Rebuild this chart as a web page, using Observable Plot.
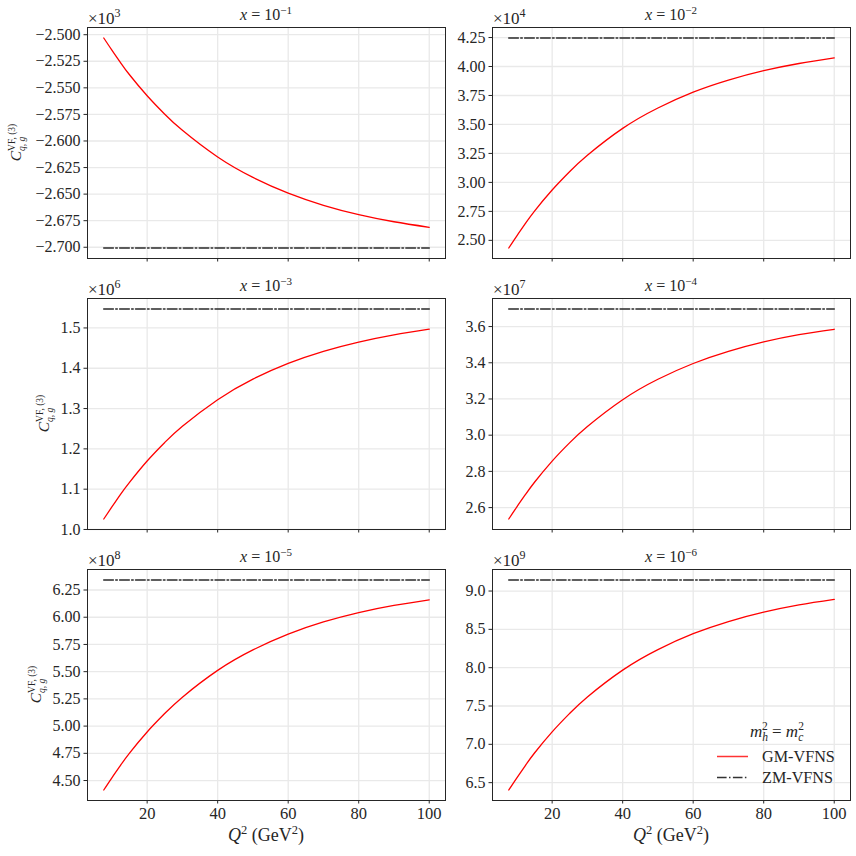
<!DOCTYPE html>
<html><head><meta charset="utf-8">
<script src="https://cdn.jsdelivr.net/npm/d3@7"></script>
<script src="https://cdn.jsdelivr.net/npm/@observablehq/plot@0.6"></script>
<style>
body{margin:0;background:#fff;}
#wrap{position:relative;width:856px;height:856px;overflow:hidden;background:#fff;}
#wrap svg.pl{position:absolute;}
#over{position:absolute;left:0;top:0;pointer-events:none;}
</style></head><body><div id="wrap"></div>
<script>
// ---------- data ----------
const Q2 = [7.7, 10, 12.5, 15, 20, 25, 30, 40, 50, 60, 70, 80, 90, 100];
const gmX1 = [-2.5031,-2.5145,-2.5264,-2.5377,-2.5574,-2.5748,-2.5900,-2.6151,-2.6343,-2.6491,-2.6605,-2.6693,-2.6760,-2.6812];
const gmX2 = [2.434,2.539,2.649,2.752,2.934,3.094,3.234,3.466,3.642,3.779,3.883,3.964,4.026,4.074];
const gmX3 = [1.026,1.056,1.088,1.117,1.170,1.216,1.256,1.322,1.373,1.412,1.442,1.465,1.483,1.497];
const gmX4 = [2.537,2.604,2.674,2.740,2.857,2.959,3.048,3.196,3.309,3.396,3.463,3.515,3.555,3.585];
const gmX5 = [4.413,4.525,4.642,4.752,4.946,5.116,5.266,5.512,5.700,5.845,5.957,6.043,6.109,6.160];
const gmX6 = [6.404,6.563,6.730,6.887,7.163,7.405,7.618,7.968,8.236,8.443,8.602,8.724,8.819,8.891];
const zmValues = [-2.7007, 4.246, 1.547, 3.697, 6.342, 9.144];
const xExponents = ["−1","−2","−3","−4","−5","−6"];
const scaleExponents = ["3","4","6","7","8","9"];
const xTicks = [20, 40, 60, 80, 100];
const yTicks1 = [-2.700,-2.675,-2.650,-2.625,-2.600,-2.575,-2.550,-2.525,-2.500];
const yTicks2 = [2.50,2.75,3.00,3.25,3.50,3.75,4.00,4.25];
const yTicks3 = [1.0,1.1,1.2,1.3,1.4,1.5];
const yTicks4 = [2.6,2.8,3.0,3.2,3.4,3.6];
const yTicks5 = [4.50,4.75,5.00,5.25,5.50,5.75,6.00,6.25];
const yTicks6 = [6.5,7.0,7.5,8.0,8.5,9.0];
const yFormats = [".3f",".2f",".1f",".1f",".2f",".1f"];
const seriesNames = ["GM-VFNS","ZM-VFNS"];

const gmAll = [gmX1,gmX2,gmX3,gmX4,gmX5,gmX6];
const yTicksAll = [yTicks1,yTicks2,yTicks3,yTicks4,yTicks5,yTicks6];

// ---------- layout ----------
const FONT = '"Liberation Serif", "DejaVu Serif", serif';
const TXT = "#262626";
const colLeft = [87, 492], rowTop = [27, 298, 569];
const FW = 358, FH = 231;
const ML = 80, MR = 10, MT = 8, MB = 30;
const wrap = document.getElementById("wrap");
const xExt = d3.extent(Q2), xPad = (xExt[1]-xExt[0])*0.05;
const xDomain = [xExt[0]-xPad, xExt[1]+xPad];

for (let i = 0; i < 6; i++) {
  const col = i % 2, row = Math.floor(i / 2);
  const gm = gmAll[i];
  const gmData = Q2.map((q, j) => ({q, v: gm[j], s: seriesNames[0]}));
  const zmData = [{q: xExt[0], v: zmValues[i], s: seriesNames[1]}, {q: xExt[1], v: zmValues[i], s: seriesNames[1]}];
  const yExt = d3.extent([...gm, zmValues[i]]), yPad = (yExt[1]-yExt[0])*0.05;
  const fmt = d3.format(yFormats[i]);
  const svg = Plot.plot({
    width: ML + FW + MR, height: MT + FH + MB,
    marginLeft: ML, marginRight: MR, marginTop: MT, marginBottom: MB,
    style: {fontFamily: FONT, color: TXT, background: "transparent", overflow: "visible"},
    x: {domain: xDomain},
    y: {domain: [yExt[0]-yPad, yExt[1]+yPad]},
    marks: [
      Plot.gridX(xTicks, {stroke: "#e9e9e9", strokeOpacity: 1, strokeWidth: 1.3}),
      Plot.gridY(yTicksAll[i], {stroke: "#e9e9e9", strokeOpacity: 1, strokeWidth: 1.3}),
      Plot.line(zmData, {x: "q", y: "v", stroke: "#2a2a2a", strokeWidth: 1.6, strokeDasharray: "9.6,2.4,1.5,2.4"}),
      Plot.line(gmData, {x: "q", y: "v", stroke: "red", strokeWidth: 1.3, curve: "natural"}),
      Plot.axisX(xTicks, {tickSize: 3.5, tickPadding: 3.5, fontSize: 16.5, label: null, stroke: TXT,
        tickFormat: row === 2 ? (d => String(d)) : (() => "")}),
      Plot.axisY(yTicksAll[i], {tickSize: 3.5, tickPadding: 3.5, fontSize: 16, label: null, stroke: TXT,
        tickFormat: d => fmt(d)}),
      Plot.frame({stroke: TXT, strokeWidth: 1})
    ]
  });
  svg.classList.add("pl");
  svg.style.left = (colLeft[col] - ML) + "px";
  svg.style.top = (rowTop[row] - MT) + "px";
  wrap.appendChild(svg);
}

// ---------- overlay texts ----------
const over = d3.select(wrap).append("svg").attr("id","over").attr("width",856).attr("height",856)
  .style("font-family", FONT);

function addText(x, y, anchor, size, parts, transform) {
  const t = over.append("text").attr("x", x).attr("y", y).attr("text-anchor", anchor)
    .attr("font-size", size).attr("fill", TXT);
  if (transform) t.attr("transform", transform);
  for (const p of parts) {
    const s = t.append("tspan").text(p.t);
    if (p.it) s.attr("font-style", "italic");
    if (p.fs) s.attr("font-size", p.fs);
    if (p.dy) s.attr("dy", p.dy);
    if (p.dx) s.attr("dx", p.dx);
  }
  return t;
}

for (let i = 0; i < 6; i++) {
  const col = i % 2, row = Math.floor(i / 2);
  const cx = colLeft[col] + FW / 2, top = rowTop[row];
  // panel title
  addText(cx, top - 7, "middle", 16, [
    {t: "x", it: 1}, {t: " = 10"}, {t: xExponents[i], fs: 11, dy: -6.5}
  ]);
  // scale factor
  addText(colLeft[col] + 1, top - 3, "start", 17, [
    {t: "×10"}, {t: scaleExponents[i], fs: 12, dy: -7}
  ]);
}

// y labels on left column
const yLabX = [21, 49, 41];
for (let r = 0; r < 3; r++) {
  const cy = rowTop[r] + FH / 2;
  const t = addText(0, 0, "middle", 15.5, [
    {t: "C", it: 1}, {t: "VF, (3)", fs: 9.5, dy: -6.5}, {t: "q, g", it: 1, fs: 9.5, dy: 10.5}
  ], `translate(${yLabX[r]},${cy}) rotate(-90)`);
  // place the subscript directly under the superscript
  const tsp = t.selectAll("tspan").nodes();
  const w = tsp[1].getComputedTextLength();
  d3.select(tsp[2]).attr("dx", -w);
}

// x labels
for (let c = 0; c < 2; c++) {
  const cx = colLeft[c] + FW / 2;
  addText(cx, 841, "middle", 18, [
    {t: "Q", it: 1}, {t: "2", fs: 12.5, dy: -7}, {t: " (GeV", dy: 7}, {t: "2", fs: 12.5, dy: -7}, {t: ")", dy: 7}
  ]);
}

// legend (panel 6)
addText(777, 737, "middle", 17, [
  {t: "m", it: 1}, {t: "h", it: 1, fs: 11.5, dy: 4}, {t: "2", fs: 11.5, dx: -6, dy: -11},
  {t: " = ", dy: 7}, {t: "m", it: 1}, {t: "c", it: 1, fs: 11.5, dy: 4}, {t: "2", fs: 11.5, dx: -5, dy: -11}
]);
const legY = [756.5, 777.5];
over.append("line").attr("x1", 717).attr("x2", 748).attr("y1", legY[0]).attr("y2", legY[0])
  .attr("stroke", "#f33").attr("stroke-width", 1.5);
over.append("line").attr("x1", 717).attr("x2", 748).attr("y1", legY[1]).attr("y2", legY[1])
  .attr("stroke", "#333").attr("stroke-width", 1.5).attr("stroke-dasharray", "9.6,2.4,1.5,2.4");
seriesNames.forEach((n, k) => addText(762, legY[k] + 5.5, "start", 16.2, [{t: n}]));
</script></body></html>
